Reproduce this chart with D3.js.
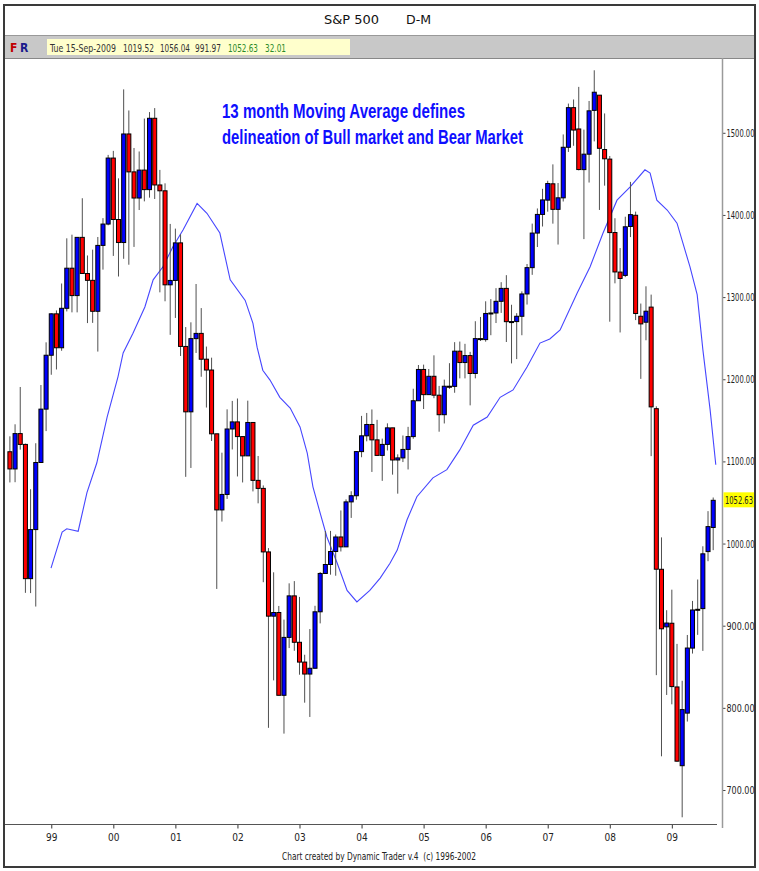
<!DOCTYPE html>
<html>
<head>
<meta charset="utf-8">
<script src="https://cdn.jsdelivr.net/npm/d3@7"></script>
<style>
  body { margin: 0; background: #fff; }
  text { font-family: "Liberation Sans Narrow", "DejaVu Sans Condensed", "Liberation Sans", sans-serif; white-space: pre; }
</style>
</head>
<body>
<script>
// S&P 500 monthly bars, May 1998 .. Sep 2009 (one entry per month)
const opens = [
  1111.75, 1090.82, 1133.84, 1120.67, 957.28, 1017.01, 1098.67, 1163.63,
  1229.23, 1279.64, 1238.33, 1286.37, 1335.18, 1301.84, 1372.71, 1328.72, 1320.41, 1282.71, 1362.93, 1388.91,
  1469.25, 1394.46, 1366.42, 1498.58, 1452.43, 1420.60, 1454.60, 1430.83, 1517.68, 1436.51, 1429.40, 1314.95,
  1320.28, 1366.01, 1239.94, 1160.33, 1249.46, 1255.82, 1224.42, 1211.23, 1133.58, 1040.94, 1059.78, 1139.45,
  1148.08, 1130.20, 1106.73, 1147.39, 1076.92, 1067.14, 989.82, 911.62, 916.07, 815.28, 885.76, 936.31,
  879.82, 855.70, 841.15, 848.18, 916.92, 963.59, 974.50, 990.31, 1008.01, 995.97, 1050.71, 1058.20,
  1111.92, 1131.13, 1144.94, 1126.21, 1107.30, 1120.68, 1140.84, 1101.72, 1104.24, 1114.58, 1130.20, 1173.82,
  1211.92, 1181.27, 1203.60, 1180.59, 1156.85, 1191.50, 1191.33, 1234.18, 1220.33, 1228.81, 1207.01, 1249.48,
  1248.29, 1280.08, 1280.66, 1294.87, 1310.61, 1270.09, 1270.20, 1276.66, 1303.82, 1335.85, 1377.94, 1400.63,
  1418.03, 1437.90, 1406.80, 1420.83, 1482.37, 1530.62, 1504.66, 1455.18, 1473.96, 1527.29, 1545.79, 1479.63,
  1467.97, 1378.60, 1330.45, 1326.41, 1385.97, 1399.62, 1276.69, 1269.42, 1287.83, 1164.17, 968.67, 898.59,
  902.99, 825.44, 729.57, 793.59, 872.74, 919.96, 920.82, 990.22, 1019.52
]
const highs = [
  1130.52, 1145.15, 1190.58, 1121.67, 1066.11, 1122.10, 1192.97, 1244.93,
  1280.37, 1283.75, 1316.55, 1371.56, 1375.98, 1372.93, 1420.33, 1350.66, 1357.74, 1373.17, 1396.12, 1473.10,
  1478.00, 1444.55, 1552.87, 1527.19, 1481.51, 1477.26, 1517.32, 1525.21, 1530.09, 1454.82, 1438.46, 1389.06,
  1383.37, 1376.38, 1263.54, 1269.30, 1315.93, 1286.62, 1239.78, 1226.27, 1133.58, 1110.61, 1163.38, 1173.62,
  1176.55, 1130.20, 1173.94, 1147.84, 1106.59, 1070.74, 994.46, 965.00, 924.02, 907.44, 951.57, 954.28,
  935.05, 864.64, 895.90, 924.24, 965.38, 1015.33, 1015.41, 1011.01, 1040.29, 1053.79, 1063.65, 1112.56,
  1155.38, 1158.98, 1163.23, 1150.57, 1127.74, 1146.34, 1140.84, 1108.60, 1131.54, 1142.05, 1188.46, 1217.33,
  1217.80, 1212.44, 1229.11, 1191.88, 1199.56, 1219.59, 1245.15, 1245.86, 1243.13, 1233.34, 1270.64, 1275.80,
  1294.90, 1297.57, 1310.88, 1318.16, 1326.70, 1290.68, 1280.42, 1307.00, 1340.28, 1389.45, 1407.89, 1431.81,
  1441.61, 1461.57, 1438.89, 1498.02, 1535.56, 1540.56, 1555.90, 1503.89, 1538.74, 1576.09, 1545.79, 1523.57,
  1471.77, 1396.02, 1359.68, 1397.84, 1440.24, 1404.05, 1292.17, 1313.15, 1303.04, 1167.03, 1007.51, 918.85,
  943.85, 877.86, 832.98, 888.70, 930.17, 956.23, 996.68, 1039.47, 1056.04
]
const lows = [
  1074.39, 1074.67, 1114.30, 939.98, 939.71, 923.32, 1098.67, 1136.89,
  1205.46, 1211.89, 1234.67, 1282.56, 1281.41, 1281.41, 1328.77, 1268.37, 1268.62, 1233.70, 1333.44, 1387.38,
  1350.14, 1325.07, 1346.62, 1339.40, 1361.09, 1406.00, 1416.54, 1421.06, 1419.44, 1305.79, 1294.90, 1254.07,
  1274.62, 1228.33, 1081.19, 1091.99, 1232.00, 1203.03, 1165.54, 1124.87, 944.75, 1026.76, 1054.31, 1114.51,
  1081.66, 1074.36, 1106.73, 1063.46, 1048.96, 952.92, 775.68, 833.44, 815.28, 768.63, 872.75, 869.45,
  840.34, 806.29, 788.90, 847.85, 902.83, 963.59, 962.10, 960.84, 990.36, 995.97, 1031.20, 1053.41,
  1105.08, 1124.44, 1087.16, 1107.23, 1076.32, 1113.32, 1083.88, 1060.72, 1099.18, 1090.19, 1127.60, 1173.76,
  1163.75, 1180.95, 1176.92, 1136.15, 1146.18, 1188.30, 1183.55, 1201.07, 1201.07, 1168.20, 1201.07, 1246.59,
  1245.74, 1253.61, 1268.42, 1280.74, 1245.34, 1219.29, 1224.54, 1253.57, 1290.93, 1327.10, 1360.98, 1385.93,
  1403.97, 1389.42, 1363.98, 1416.37, 1476.70, 1484.18, 1454.25, 1370.60, 1439.45, 1489.56, 1406.10, 1435.65,
  1270.05, 1316.75, 1256.98, 1324.35, 1373.07, 1272.00, 1200.44, 1247.45, 1106.42, 839.80, 741.02, 815.69,
  804.30, 734.52, 666.79, 783.32, 866.10, 888.86, 869.32, 978.51, 991.97
]
const closes = [
  1090.82, 1133.84, 1120.67, 957.28, 1017.01, 1098.67, 1163.63, 1229.23,
  1279.64, 1238.33, 1286.37, 1335.18, 1301.84, 1372.71, 1328.72, 1320.41, 1282.71, 1362.93, 1388.91, 1469.25,
  1394.46, 1366.42, 1498.58, 1452.43, 1420.60, 1454.60, 1430.83, 1517.68, 1436.51, 1429.40, 1314.95, 1320.28,
  1366.01, 1239.94, 1160.33, 1249.46, 1255.82, 1224.38, 1211.23, 1133.58, 1040.94, 1059.78, 1139.45, 1148.08,
  1130.20, 1106.73, 1147.39, 1076.92, 1067.14, 989.82, 911.62, 916.07, 815.28, 885.76, 936.31, 879.82,
  855.70, 841.15, 848.18, 916.92, 963.59, 974.50, 990.31, 1008.01, 995.97, 1050.71, 1058.20, 1111.92,
  1131.13, 1144.94, 1126.21, 1107.30, 1120.68, 1140.84, 1101.72, 1104.24, 1114.58, 1130.20, 1173.82, 1211.92,
  1181.27, 1203.60, 1180.59, 1156.85, 1191.50, 1191.33, 1234.18, 1220.33, 1228.81, 1207.01, 1249.48, 1248.29,
  1280.08, 1280.66, 1294.87, 1310.61, 1270.09, 1270.20, 1276.66, 1303.82, 1335.85, 1377.94, 1400.63, 1418.30,
  1438.24, 1406.82, 1420.86, 1482.37, 1530.62, 1503.35, 1455.27, 1473.99, 1526.75, 1549.38, 1481.14, 1468.36,
  1378.55, 1330.63, 1322.70, 1385.59, 1400.38, 1280.00, 1267.38, 1282.83, 1166.36, 968.75, 896.24, 903.25,
  825.88, 735.09, 797.87, 872.81, 919.14, 919.32, 987.48, 1020.62, 1052.63
]

// 13 month moving average as drawn (month offset from May 1998, value)
const maMonth = [7.95, 10.1, 11, 13.2, 14.9, 16.8, 18.8, 20.9, 21.9, 23.8, 26.1, 27.7, 29.6, 31.5, 33.5,
  36.2, 38.1, 40.6, 42.6, 45.5, 47, 47.8, 48.9, 50.3, 52.2, 54.2, 56.1, 57.5, 58.6, 60, 61.3, 63.3, 65.2,
  67.1, 69.6, 71.6, 73.5, 74.9, 76.8, 78.7, 81.8, 84.5, 87, 89.6, 92.3, 94.8, 97.3, 100, 102.5, 104.4,
  106.4, 109.7, 112.2, 114.7, 117.4, 119.9, 122.8, 123.8, 125.1, 127.1, 129, 131.5, 132.9, 134, 135.4, 136.5]
const maValue = [970, 1014, 1018, 1015, 1062, 1098, 1154, 1203, 1232, 1256, 1288, 1321, 1337, 1361, 1382,
  1414, 1402, 1378, 1321, 1296, 1268, 1239, 1211, 1199, 1178, 1165, 1142, 1110, 1069, 1037, 1008, 976, 943,
  929, 943, 958, 976, 992, 1029, 1057, 1080, 1090, 1114, 1144, 1154, 1178, 1187, 1215, 1244, 1249,
  1260, 1305, 1337, 1378, 1418, 1434, 1455, 1451, 1418, 1406, 1390, 1337, 1303, 1236, 1163, 1096]

const yearTicks = [8, 20, 32, 44, 56, 68, 80, 92, 104, 116, 128]
const yearLabels = ['99', '00', '01', '02', '03', '04', '05', '06', '07', '08', '09']
const priceTicks = [700, 800, 900, 1000, 1100, 1200, 1300, 1400, 1500]
const lastBar = ['Tue 15-Sep-2009', '1019.52', '1056.04', '991.97', '1052.63', '32.01']

const W = 759, H = 871

var svg = d3.select('body').append('svg')
  .attr('width', W)
  .attr('height', H)

// squeeze a text horizontally to a given width (the old chart font is very narrow)
function squeeze(sel, width, dx) {
  sel.each(function () {
    var w = this.getComputedTextLength()
    var s = Math.min(1, width / w)
    d3.select(this).attr('x', 0).attr('transform', 'translate(' + (dx || 0) + ',0) scale(' + s + ',1)')
  })
}

// frame + header bands
svg.append('rect')
  .attr('x', 4).attr('y', 5).attr('width', 751).attr('height', 862)
  .style('fill', '#fff').style('stroke', '#3a3a3a').style('stroke-width', 2)
svg.append('line').attr('x1', 5).attr('x2', 754).attr('y1', 35.5).attr('y2', 35.5)
  .style('stroke', '#999')
svg.append('rect').attr('x', 5).attr('y', 36).attr('width', 749).attr('height', 22)
  .style('fill', '#c8c8c8')
svg.append('rect').attr('x', 47).attr('y', 39).attr('width', 303).attr('height', 16)
  .style('fill', '#ffffcc')
svg.append('line').attr('x1', 5).attr('x2', 754).attr('y1', 58.5).attr('y2', 58.5)
  .style('stroke', '#888')

svg.append('text').attr('x', 324).attr('y', 24)
  .attr('textLength', 55).attr('lengthAdjust', 'spacingAndGlyphs')
  .style('font-size', '13px').style('fill', '#111').text('S&P 500')
svg.append('text').attr('x', 406).attr('y', 24)
  .attr('textLength', 25).attr('lengthAdjust', 'spacingAndGlyphs')
  .style('font-size', '13px').style('fill', '#111').text('D-M')

svg.append('text').attr('x', 10).attr('y', 52)
  .style('font-size', '12px').style('font-weight', 'bold').style('fill', '#c00000').text('F')
svg.append('text').attr('x', 20).attr('y', 52)
  .style('font-size', '12px').style('font-weight', 'bold').style('fill', '#1a1a8c').text('R')

// last bar readout, one piece per field
var infoX = [50, 123, 160, 195, 228, 265]
var infoW = [66, 31, 30, 26, 30, 21]
svg.append('g').attr('transform', 'translate(0,51.5)')
  .selectAll('g')
  .data(lastBar)
  .join('g')
  .attr('transform', (d, i) => 'translate(' + infoX[i] + ',0)')
  .append('text')
  .style('font-size', '11px')
  .style('fill', (d, i) => i >= 4 ? '#2a8a2a' : '#333')
  .text(d => d)
  .each(function (d, i) { squeeze(d3.select(this), infoW[i]) })

// scales
var x = d3.scaleLinear().domain([0, closes.length - 1]).range([9.9, 713.2])
var y = d3.scaleLinear().domain([700, 1500]).range([790, 132.8])

// right price axis
var yAxis = svg.append('g')
  .attr('transform', 'translate(722.5,0)')
  .call(d3.axisRight(y).tickValues(priceTicks).tickSize(3).tickFormat(d => d.toFixed(2)))
yAxis.select('.domain').remove()
yAxis.selectAll('.tick line').style('stroke', '#444')
yAxis.selectAll('.tick text')
  .style('font-size', '11px')
  .style('fill', '#222')
  .call(squeeze, 28, 4)

svg.append('line').attr('x1', 722.5).attr('x2', 722.5).attr('y1', 58).attr('y2', 828)
  .style('stroke', '#9a9a9a').style('stroke-width', 1.5)

// last price marker
var last = closes[closes.length - 1]
svg.append('rect').attr('x', 723.5).attr('y', y(last) - 8).attr('width', 30.5).attr('height', 15)
  .style('fill', '#ffff00')
svg.append('g').attr('transform', 'translate(725,' + (y(last) + 4) + ')')
  .append('text')
  .style('font-size', '11px').style('fill', '#222').text(last.toFixed(2))
  .call(squeeze, 28)

// bottom time axis
var xAxis = svg.append('g')
  .attr('transform', 'translate(0,824.5)')
  .call(d3.axisBottom(x).tickValues(yearTicks).tickSize(4).tickFormat((d, i) => yearLabels[i]))
xAxis.select('.domain').remove()
xAxis.selectAll('.tick line').style('stroke', '#333')
xAxis.selectAll('.tick text').attr('y', 9)
  .style('font-size', '10px').style('fill', '#222')
svg.append('line').attr('x1', 5).attr('x2', 717).attr('y1', 824.5).attr('y2', 824.5)
  .style('stroke', '#555')

svg.append('text').attr('x', 379).attr('y', 860).attr('text-anchor', 'middle')
  .attr('textLength', 194).attr('lengthAdjust', 'spacingAndGlyphs')
  .style('font-size', '10.5px').style('fill', '#222')
  .text('Chart created by Dynamic Trader v.4  (c) 1996-2002')

// moving average
var ma = maMonth.map((m, i) => [m, maValue[i]])
svg.append('path')
  .datum(ma)
  .attr('d', d3.line().x(d => x(d[0])).y(d => y(d[1])))
  .style('fill', 'none')
  .style('stroke', '#4646ff')
  .style('stroke-width', 1.1)

// candles
var bars = svg.append('g').selectAll('g')
  .data(closes.map((c, i) => ({ i: i, o: opens[i], h: highs[i], l: lows[i], c: c })))
  .join('g')

bars.append('line')
  .attr('x1', d => x(d.i)).attr('x2', d => x(d.i))
  .attr('y1', d => y(d.h)).attr('y2', d => y(d.l))
  .style('stroke', '#505050')
  .style('stroke-width', 1)

bars.append('rect')
  .attr('x', d => x(d.i) - 2)
  .attr('y', d => y(Math.max(d.o, d.c)))
  .attr('width', 4)
  .attr('height', d => Math.max(1, Math.abs(y(d.o) - y(d.c))))
  .style('fill', d => d.c >= d.o ? '#0000ff' : '#ff0000')
  .style('stroke', '#000')
  .style('stroke-width', 1)

// annotation
svg.append('text').attr('x', 222).attr('y', 118)
  .attr('textLength', 243).attr('lengthAdjust', 'spacingAndGlyphs')
  .style('font-family', '"Liberation Sans", Arial, sans-serif')
  .style('font-size', '21px').style('font-weight', 'bold').style('fill', '#0f0fff')
  .text('13 month Moving Average defines')
svg.append('text').attr('x', 222).attr('y', 144)
  .attr('textLength', 301).attr('lengthAdjust', 'spacingAndGlyphs')
  .style('font-family', '"Liberation Sans", Arial, sans-serif')
  .style('font-size', '21px').style('font-weight', 'bold').style('fill', '#0f0fff')
  .text('delineation of Bull market and Bear Market')
</script>
</body>
</html>
